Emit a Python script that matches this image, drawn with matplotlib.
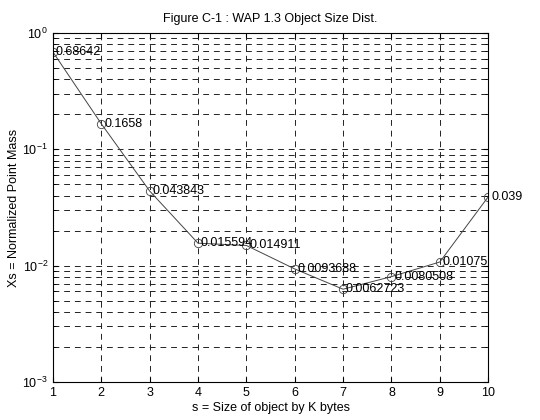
import matplotlib
matplotlib.use("Agg")
import matplotlib.pyplot as plt

# Object sizes (K bytes) and normalized point mass
sizes = [1, 2, 3, 4, 5, 6, 7, 8, 9, 10]
mass = [0.68642, 0.1658, 0.043843, 0.015594, 0.014911,
        0.0093688, 0.0062723, 0.0080508, 0.01075, 0.039]
labels = ["0.68642", "0.1658", "0.043843", "0.015594", "0.014911",
          "0.0093688", "0.0062723", "0.0080508", "0.01075", "0.039"]

plt.rcParams['font.family'] = ['Liberation Sans', 'DejaVu Sans']

fig = plt.figure(figsize=(5.4, 4.2), dpi=100)
ax = fig.add_axes([0.098, 0.0905, 0.806, 0.831])

ax.semilogy(sizes, mass, color='#444444', linewidth=0.7, marker='o',
            markersize=6, markerfacecolor='none', markeredgecolor='#444444',
            markeredgewidth=0.6)

for xv, yv, txt in zip(sizes, mass, labels):
    ax.text(xv + 0.06, yv, txt, fontsize=9, va='center', ha='left')

ax.set_xlim(1, 10)
ax.set_ylim(1e-3, 1)
ax.set_xticks(sizes)
ax.grid(True, which='major', linestyle=(0, (6, 5)), color='#222222', linewidth=0.7)
ax.grid(True, which='minor', axis='y', linestyle=(0, (6, 5)), color='#222222', linewidth=0.7)
ax.tick_params(which='both', direction='in', labelsize=9, top=True, right=True)
ax.tick_params(which='minor', length=2)

ax.set_title("Figure C-1 : WAP 1.3 Object Size Dist.", fontsize=9, pad=8)
ax.set_xlabel("s = Size of object by K bytes", fontsize=9, labelpad=2)
ax.set_ylabel("Xs = Normalized Point Mass", fontsize=9, labelpad=2)

fig.savefig("out.png", dpi=100)
